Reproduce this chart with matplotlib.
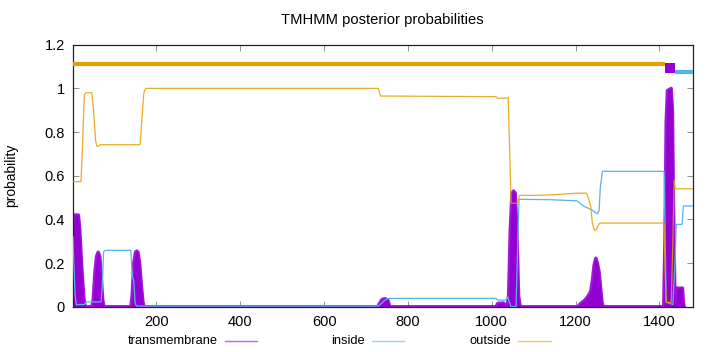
import matplotlib
matplotlib.use("Agg")
import matplotlib.pyplot as plt
import numpy as np
from matplotlib.lines import Line2D
from matplotlib.ticker import FixedLocator, FuncFormatter

plt.rcParams['font.family'] = ['Liberation Sans', 'DejaVu Sans']

# ---- data ----
seq_len = 1480

tm_x = [1, 3, 5, 14, 17, 20, 23, 27, 30, 46, 49, 53, 57, 61, 65, 69, 72, 75,
        139, 142, 146, 150, 153, 156, 160, 164, 168, 171,
        728, 732, 738, 745, 752, 757,
        1010, 1014, 1028, 1032, 1036, 1040, 1044, 1048, 1052, 1056, 1060, 1064, 1068,
        1205, 1212, 1222, 1230, 1236, 1240, 1244, 1248, 1252, 1256, 1260, 1263, 1266,
        1410, 1413, 1416, 1419, 1428, 1431, 1434, 1437, 1439, 1441, 1455, 1457, 1459, 1480]
tm_y = [0.12, 0.35, 0.42, 0.42, 0.36, 0.25, 0.15, 0.04, 0.0, 0.0, 0.03, 0.15, 0.23, 0.25, 0.23, 0.12, 0.03, 0.0,
        0.0, 0.05, 0.2, 0.25, 0.255, 0.25, 0.2, 0.1, 0.02, 0.0,
        0.0, 0.015, 0.033, 0.037, 0.03, 0.0,
        0.0, 0.015, 0.017, 0.005, 0.0, 0.05, 0.35, 0.52, 0.53, 0.52, 0.35, 0.05, 0.0,
        0.0, 0.015, 0.03, 0.05, 0.07, 0.12, 0.19, 0.222, 0.2, 0.16, 0.08, 0.02, 0.0,
        0.0, 0.3, 0.85, 0.99, 1.0, 0.9, 0.4, 0.02, 0.0, 0.085, 0.085, 0.02, 0.0, 0.0]

in_x = [1, 3, 6, 9, 28, 32, 68, 71, 74, 77, 139, 141, 143, 146, 149, 152,
        730, 745, 752, 1010, 1014, 1033, 1038, 1042, 1046, 1058, 1062, 1065,
        1140, 1203, 1220, 1239, 1251, 1256, 1259, 1264, 1411, 1413, 1416, 1432,
        1437, 1440, 1454, 1457, 1480]
in_y = [0.32, 0.2, 0.05, 0.01, 0.01, 0.022, 0.022, 0.1, 0.25, 0.258, 0.258, 0.18, 0.135, 0.12, 0.02, 0.003,
        0.003, 0.03, 0.038, 0.038, 0.03, 0.03, 0.045, 0.02, 0.0, 0.0, 0.3, 0.492,
        0.49, 0.485, 0.46, 0.443, 0.425, 0.44, 0.55, 0.62, 0.62, 0.4, 0.02, 0.01,
        0.2, 0.377, 0.377, 0.461, 0.461]

out_x = [1, 20, 24, 28, 32, 46, 50, 55, 58, 62, 66, 161, 165, 170, 174,
         729, 735, 1010, 1014, 1036, 1039, 1043, 1046, 1062, 1066, 1100, 1150, 1200,
         1226, 1230, 1236, 1240, 1245, 1250, 1256, 1262, 1411, 1413, 1416, 1428,
         1432, 1435, 1438, 1480]
out_y = [0.573, 0.573, 0.75, 0.97, 0.98, 0.98, 0.9, 0.76, 0.735, 0.735, 0.742, 0.742, 0.85, 0.98, 1.0,
         1.0, 0.965, 0.962, 0.955, 0.955, 0.96, 0.7, 0.474, 0.474, 0.51, 0.51, 0.513, 0.52,
         0.52, 0.5, 0.46, 0.38, 0.35, 0.355, 0.38, 0.383, 0.383, 0.2, 0.02, 0.02,
         0.3, 0.58, 0.54, 0.54]

# predicted topology (top bars)
topo_start = [1, 1413, 1436]
topo_end = [1413, 1436, 1480]
topo_kind = ['outside', 'transmembrane', 'inside']

x_ticks = [200, 400, 600, 800, 1000, 1200, 1400]
y_ticks = [0, 0.2, 0.4, 0.6, 0.8, 1.0, 1.2]

C_TM = '#9400d3'
C_IN = '#56b4e9'
C_OUT = '#e69f00'
colors = {'transmembrane': C_TM, 'inside': C_IN, 'outside': C_OUT}

fig = plt.figure(figsize=(7.2, 3.52), dpi=100)
ax = fig.add_axes([73/720, 45.3/352, 620/720, 262/352])

# TM filled curve; heavy outline only where the curve leaves the baseline
ty = np.array(tm_y, dtype=float)
flat = np.zeros(len(ty), dtype=bool)
for i in range(len(ty)):
    lo = ty[i - 1] if i > 0 else 0.0
    hi = ty[i + 1] if i < len(ty) - 1 else 0.0
    flat[i] = (ty[i] == 0) and (lo == 0) and (hi == 0)
ty_outline = np.where(flat, np.nan, ty)

ax.fill_between(tm_x, 0, tm_y, color=C_TM, linewidth=0, zorder=2)
ax.plot(tm_x, ty_outline, color=C_TM, lw=2.4, alpha=0.9, solid_joinstyle='round', zorder=2)
ax.plot(in_x, in_y, color=C_IN, lw=0.9, zorder=3)
ax.plot(out_x, out_y, color=C_OUT, lw=0.9, alpha=0.85, zorder=4)

# topology bars
for s, e, k in zip(topo_start, topo_end, topo_kind):
    if k == 'transmembrane':
        ax.fill_between([s, e], 1.072, 1.115, color=C_TM, linewidth=0, zorder=5)
    elif k == 'outside':
        ax.plot([s, e], [1.113, 1.113], color=C_OUT, lw=3.0, solid_capstyle='butt', zorder=5)
    else:
        ax.plot([s, e], [1.074, 1.074], color=C_IN, lw=3.0, solid_capstyle='butt', zorder=5)

ax.set_xlim(1, seq_len)
ax.set_ylim(0, 1.2)
ax.xaxis.set_major_locator(FixedLocator(x_ticks))
ax.yaxis.set_major_locator(FixedLocator(y_ticks))
ax.yaxis.set_major_formatter(FuncFormatter(lambda v, p: ('%g' % round(v, 1))))
ax.tick_params(direction='in', length=4, width=0.6, color='#808080',
               top=True, right=True, labelsize=10.5, pad=6, labelcolor='black')
for sp in ax.spines.values():
    sp.set_color('#222222')
    sp.set_linewidth(0.9)

ax.set_ylabel('probability', fontsize=10)
ax.yaxis.set_label_coords(-0.088, 0.5)
fig.text(382/720, 1 - 20/352, 'TMHMM posterior probabilities', ha='center', va='center', fontsize=10.6)

# legend (gnuplot style: label then sample)
leg_items = [('transmembrane', 218, 225, 257), ('inside', 365, 372, 404), ('outside', 511, 518, 551)]
ly = 1 - 341/352
for name, tx, l0, l1 in leg_items:
    fig.text(tx/720, ly, name, ha='right', va='center', fontsize=9.3)
    fig.add_artist(Line2D([l0/720, l1/720], [ly, ly], color=colors[name], lw=1.0, alpha=0.6,
                          transform=fig.transFigure))

fig.savefig('out.png', dpi=100)
